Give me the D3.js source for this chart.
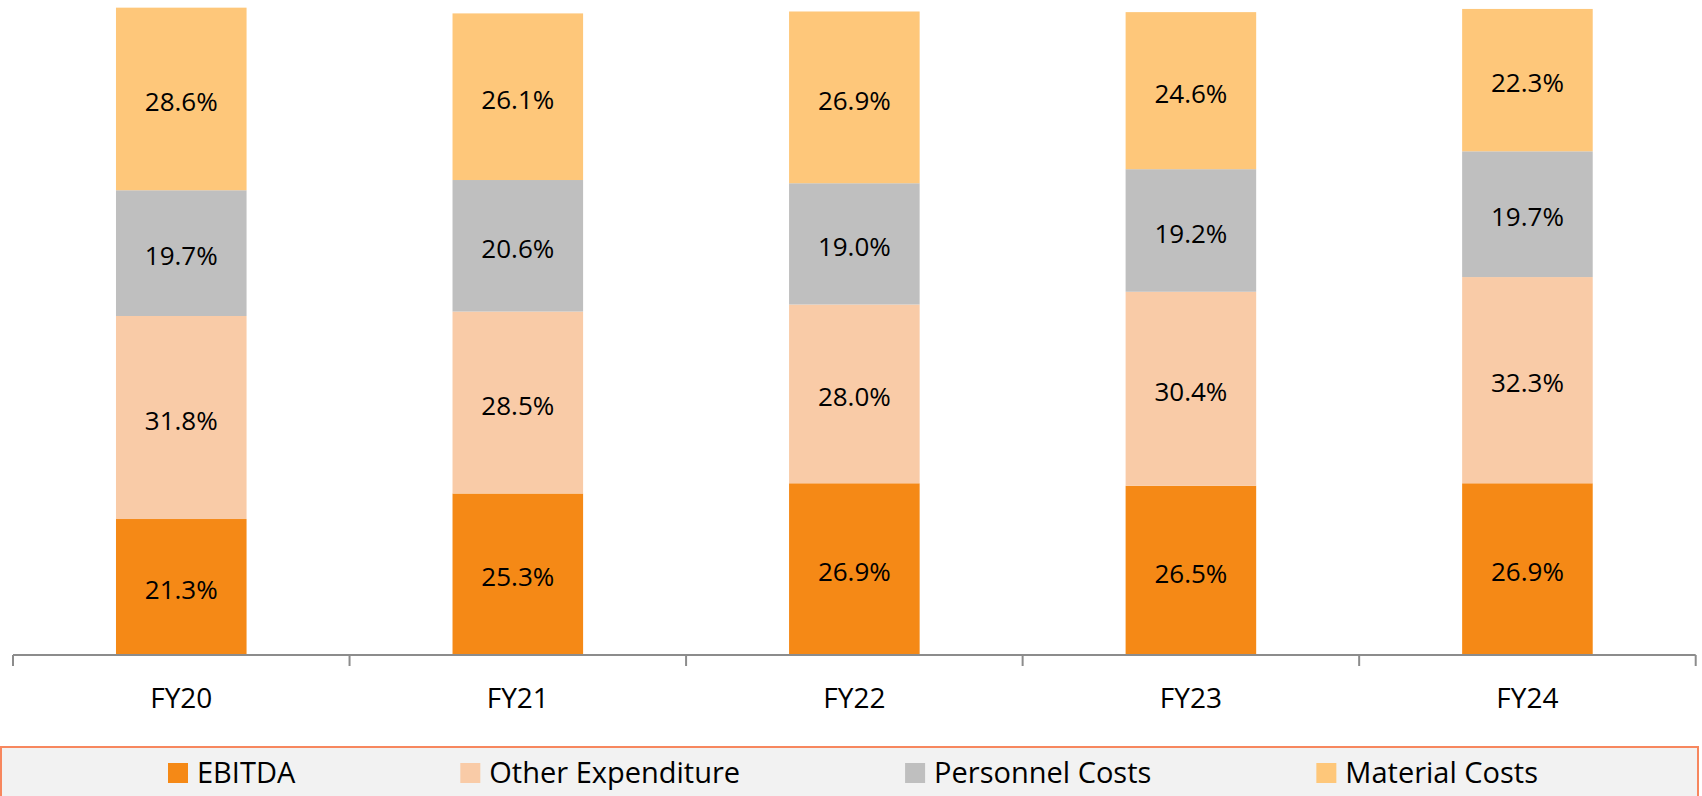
<!DOCTYPE html>
<html>
<head>
<meta charset="utf-8">
<script src="https://cdn.jsdelivr.net/npm/d3@7"></script>
<style>
  html, body { margin: 0; padding: 0; background: #fff; }
  svg { display: block; font-family: "Open Sans", "Noto Sans", sans-serif; }
</style>
</head>
<body>
<svg id="chart" width="1702" height="796"></svg>
<script>
// Cost structure as a share of revenue, by fiscal year
const years = ["FY20", "FY21", "FY22", "FY23", "FY24"];
const seriesNames = ["EBITDA", "Other Expenditure", "Personnel Costs", "Material Costs"];
const ebitda = [21.3, 25.3, 26.9, 26.5, 26.9];
const otherExpenditure = [31.8, 28.5, 28.0, 30.4, 32.3];
const personnelCosts = [19.7, 20.6, 19.0, 19.2, 19.7];
const materialCosts = [28.6, 26.1, 26.9, 24.6, 22.3];
const colors = ["#F58916", "#F9CBA7", "#BFBFBF", "#FEC77A"];

const seriesValues = [ebitda, otherExpenditure, personnelCosts, materialCosts];
const keys = ["ebitda", "other", "personnel", "material"];
const rows = years.map((y, i) => {
  const r = { year: y };
  keys.forEach((k, j) => r[k] = seriesValues[j][i]);
  return r;
});

const svg = d3.select("#chart");
const plotLeft = 13, plotRight = 1695.7, baseY = 655, topY = 0;

const x = d3.scaleBand()
  .domain(years)
  .range([plotLeft, plotRight])
  .paddingInner(0.612)
  .paddingOuter(0.306);

const y = d3.scaleLinear()
  .domain([0, 102.6])
  .range([baseY, topY]);

const stacked = d3.stack().keys(keys)(rows);

// Stacked bars
const layers = svg.append("g").selectAll("g")
  .data(stacked)
  .join("g")
  .attr("fill", (d, i) => colors[i]);

layers.selectAll("rect")
  .data(d => d)
  .join("rect")
  .attr("x", d => x(d.data.year))
  .attr("width", x.bandwidth())
  .attr("y", d => y(d[1]))
  .attr("height", d => y(d[0]) - y(d[1]));

// Value labels centred in each segment
layers.selectAll("text")
  .data(d => d.map(v => ({ v, key: d.key })))
  .join("text")
  .attr("x", d => x(d.v.data.year) + x.bandwidth() / 2)
  .attr("y", d => (y(d.v[0]) + y(d.v[1])) / 2)
  .attr("dy", "0.47em")
  .attr("text-anchor", "middle")
  .attr("fill", "#000")
  .attr("font-size", 26)
  .text(d => d3.format(".1f")(d.v.data[d.key]) + "%");

// Category axis: baseline, boundary ticks and labels
const axisG = svg.append("g");
axisG.append("line")
  .attr("x1", plotLeft).attr("x2", plotRight)
  .attr("y1", baseY).attr("y2", baseY)
  .attr("stroke", "#8C8C8C").attr("stroke-width", 2);

const step = x.step();
const boundaries = d3.range(years.length + 1).map(i => x(years[0]) - step * x.paddingOuter() + i * step);
axisG.selectAll("line.tick")
  .data(boundaries)
  .join("line")
  .attr("class", "tick")
  .attr("x1", d => d).attr("x2", d => d)
  .attr("y1", baseY).attr("y2", baseY + 11)
  .attr("stroke", "#8C8C8C").attr("stroke-width", 2);

axisG.selectAll("text")
  .data(years)
  .join("text")
  .attr("x", d => x(d) + x.bandwidth() / 2)
  .attr("y", 708)
  .attr("text-anchor", "middle")
  .attr("font-size", 28)
  .attr("fill", "#000")
  .text(d => d);

// Legend box along the bottom
svg.append("rect")
  .attr("x", 1).attr("y", 747)
  .attr("width", 1697).attr("height", 70)
  .attr("fill", "#F2F2F2")
  .attr("stroke", "#F7875E")
  .attr("stroke-width", 2);

const legend = svg.append("g");
const items = legend.selectAll("g")
  .data(seriesNames)
  .join("g");

items.append("rect")
  .attr("x", 0).attr("y", 763)
  .attr("width", 20).attr("height", 20)
  .attr("fill", (d, i) => colors[i]);

items.append("text")
  .attr("x", 29).attr("y", 783)
  .attr("font-size", 29)
  .attr("fill", "#000")
  .text(d => d);

// Entries separated by equal gaps, centred in the box
const gap = 165;
const widths = [];
items.each(function () {
  widths.push(29 + d3.select(this).select("text").node().getComputedTextLength());
});
const total = d3.sum(widths) + gap * (widths.length - 1);
let cursor = 853 - total / 2;
items.attr("transform", (d, i) => {
  const t = `translate(${cursor},0)`;
  cursor += widths[i] + gap;
  return t;
});
</script>
</body>
</html>
